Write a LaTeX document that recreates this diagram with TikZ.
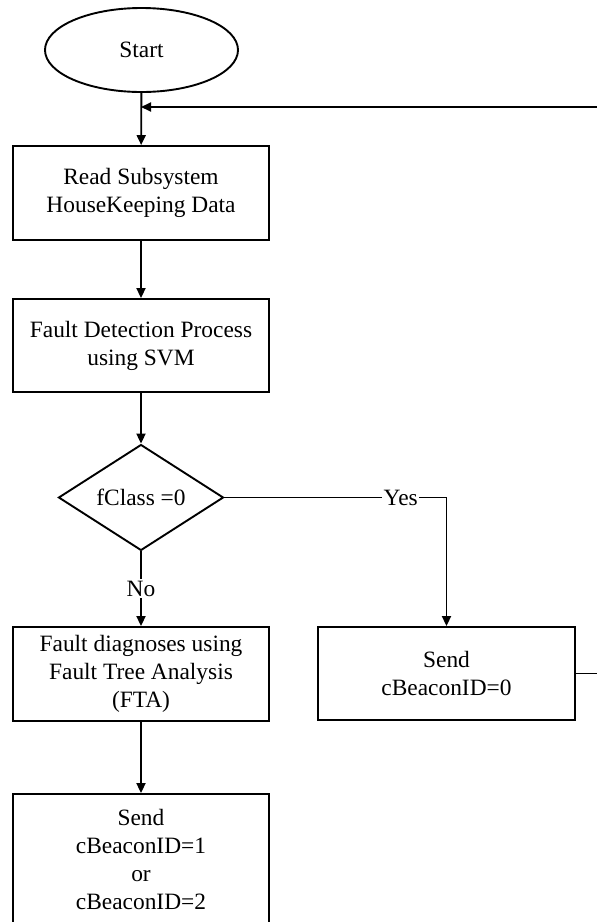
\documentclass[tikz,border=0pt]{standalone}
\usepackage{fontspec}
\setmainfont{Liberation Serif}
\usetikzlibrary{shapes.geometric,arrows.meta}
\begin{document}
\begin{tikzpicture}[x=1pt,y=-1pt,
  every node/.style={font=\fontsize{23.4}{28}\selectfont, align=center, inner sep=0pt},
  stepbox/.style={draw, line width=1.9pt, rectangle, minimum width=256pt},
  startnode/.style={draw, line width=1.9pt, ellipse, minimum width=193pt, minimum height=84pt},
  decision/.style={draw, line width=1.9pt, diamond, minimum width=165pt, minimum height=93pt},
  conn/.style={line width=1.9pt, -{Triangle[length=10pt,width=9pt]}},
  plain/.style={line width=1.9pt},
  lbl/.style={fill=white, inner sep=1.5pt}]
\useasboundingbox (0,0) rectangle (597,922);
\fill[white] (0,0) rectangle (597,922);

\node[startnode] (start) at (141.5,50) {Start};
\node[stepbox, minimum height=94pt] (read) at (141,193) {Read Subsystem\\HouseKeeping Data};
\node[stepbox, minimum height=93pt] (detect) at (141,345.5) {Fault Detection Process\\using SVM};
\node[decision] (dec) at (141,497.5) {fClass =0};
\node[stepbox, minimum height=94pt] (diag) at (141,674) {Fault diagnoses using\\Fault Tree Analysis\\(FTA)};
\node[stepbox, minimum height=131pt] (send12) at (141,859.5) {Send\\cBeaconID=1\\or\\cBeaconID=2};
\node[stepbox, minimum width=257pt, minimum height=93pt] (send0) at (446.5,673.5) {Send\\cBeaconID=0};

\coordinate (fbin) at (141,107);
\coordinate (fbtop) at (597,107);
\coordinate (fbout) at (597,673.5);

\draw[conn] (start) -- (read);
\draw[conn] (fbtop) -- (fbin);
\draw[conn] (read) -- (detect);
\draw[conn] (detect) -- (dec);
\draw[conn] (dec.south) -- node[lbl, pos=0.5] {No} (diag.north);
\draw[conn] (dec.east) -| node[lbl, pos=0.397] {Yes} (send0.north);
\draw[conn] (diag) -- (send12);
\draw[plain] (send0.east) -- (fbout);
\end{tikzpicture}
\end{document}
